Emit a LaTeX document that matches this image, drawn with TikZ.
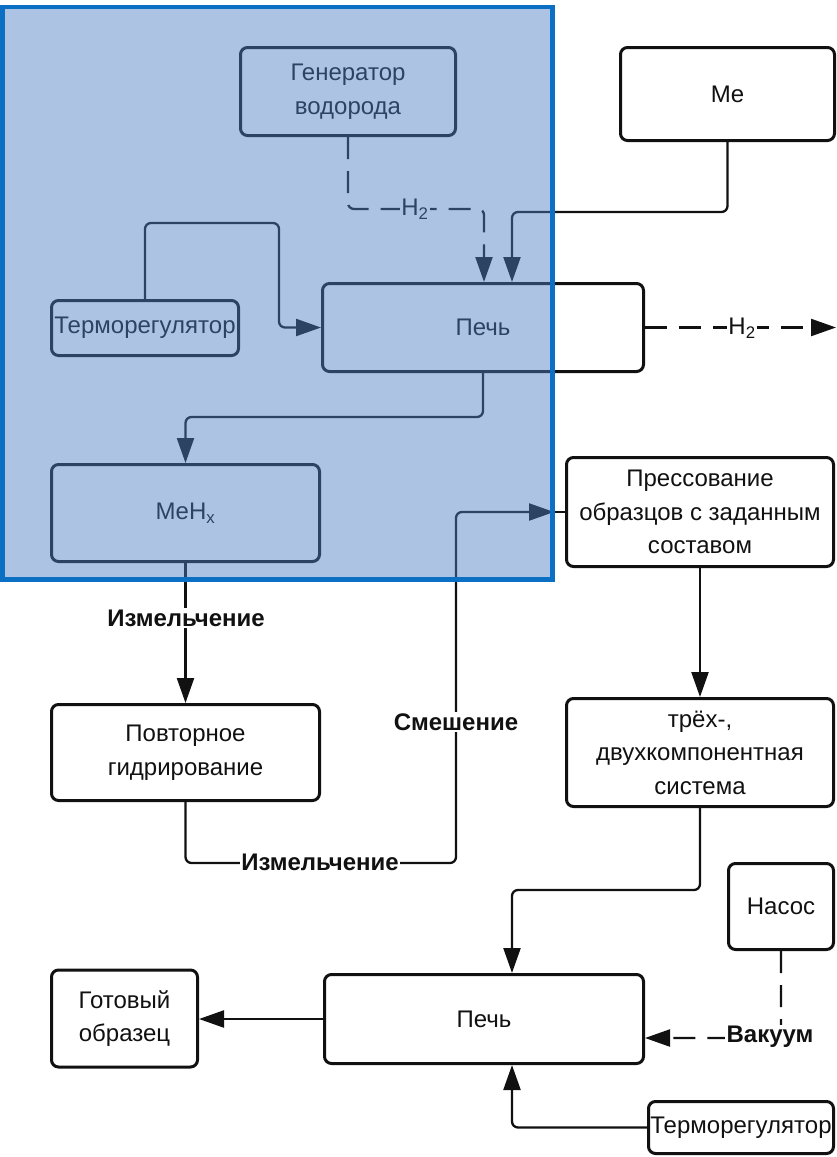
\documentclass[tikz,border=0pt]{standalone}
\usepackage{fontspec}
\setmainfont{Liberation Sans}
\usetikzlibrary{arrows.meta}

\definecolor{ink}{HTML}{111111}
\definecolor{frameblue}{HTML}{0B6FC4}
\definecolor{veil}{RGB}{78,126,196}

\begin{document}
\begin{tikzpicture}[x=1pt,y=-1pt,
  box/.style={draw=ink, line width=3pt, rounded corners=7pt, align=center,
    text=ink, inner sep=0pt, font=\fontsize{24}{33.5}\selectfont},
  link/.style={draw=ink, line width=2.3pt, rounded corners=6pt},
  tip/.style={-{Triangle[length=25pt,width=17pt]}},
  gas/.style={dash pattern=on 22pt off 12pt},
  lbl/.style={fill=white, inner sep=1.5pt, text=ink, font=\fontsize{24}{28}\selectfont},
  blbl/.style={lbl, font=\bfseries\fontsize{24}{28}\selectfont}]

\useasboundingbox (0,0) rectangle (837,1157);
\fill[white] (0,0) rectangle (837,1157);

% process blocks
\node[box, minimum width=215pt, minimum height=88pt] (gen) at (348,91.5) {Генератор\\водорода};
\node[box, minimum width=214pt, minimum height=93pt] (me) at (727.5,94) {Me};
\node[box, minimum width=187pt, minimum height=55pt] (termoA) at (145,328) {Терморегулятор};
\node[box, minimum width=321pt, minimum height=88pt] (furnA) at (483,327.5) {Печь};
\node[box, minimum width=268pt, minimum height=97pt] (mehx) at (185.5,513) {MeH\textsubscript{x}};
\node[box, minimum width=267pt, minimum height=109pt] (press) at (700,512) {Прессование\\образцов с заданным\\составом};
\node[box, minimum width=268pt, minimum height=96pt] (rehyd) at (185.5,752.5) {Повторное\\гидрирование};
\node[box, minimum width=267pt, minimum height=108pt] (sys) at (700,752.5) {трёх-,\\двухкомпонентная\\система};
\node[box, minimum width=105pt, minimum height=86pt] (pump) at (781,906.5) {Насос};
\node[box, minimum width=319pt, minimum height=89pt] (furnB) at (484,1019) {Печь};
\node[box, minimum width=146pt, minimum height=97pt] (ready) at (124.5,1018.5) {Готовый\\образец};
\node[box, minimum width=185pt, minimum height=52pt] (termoB) at (741,1127.5) {Терморегулятор};

% entry points on the furnaces
\coordinate (h2in) at ([xshift=1pt]furnA.north);
\coordinate (mein) at ([xshift=29pt]furnA.north);
\coordinate (h2out) at (836,327.5);
\coordinate (sysin) at ([xshift=28pt]furnB.north);
\coordinate (heatin) at ([xshift=28pt]furnB.south);
\coordinate (vacin) at ([yshift=-19pt]furnB.east);

% connectors
\draw[link,gas,tip] (gen.south) -- ++(0,72) -| (h2in);
\draw[link,tip] (me.south) -- ++(0,70) -| (mein);
\draw[link,tip] (termoA.north) |- (279,223) |- (furnA.west);
\draw[link,gas,tip] (furnA.east) -- (h2out);
\draw[link,tip] (furnA.south) -- ++(0,44) -| (mehx.north);
\draw[link,tip] (mehx.south) -- (rehyd.north);
\draw[link,tip,shorten >=11pt] (rehyd.south) |- (456,863) |- (press.west);
\draw[link] (press.west) -- ++(-12,0);
\draw[link,tip] (press.south) -- (sys.north);
\draw[link,tip] (sys.south) -- ++(0,82) -| (sysin);
\draw[link,gas,tip] (pump.south) |- (vacin);
\draw[link,tip] (termoB.west) -| (heatin);
\draw[link,tip] (furnB.west) -- (furnB.west -| ready.east);

% connector labels
\node[lbl] (lh2a) at (415,209) {H\textsubscript{2}};
\node[lbl] (lh2b) at (742,328) {H\textsubscript{2}};
\node[blbl] (lgrindA) at (186,618) {Измельчение};
\node[blbl] (lgrindB) at (320,862) {Измельчение};
\node[blbl] (lmix) at (456,722) {Смешение};
\node[blbl] (lvac) at (770,1037) {Вакуум};

% highlighted hydriding stage
\fill[veil, fill opacity=0.46] (2.5,7) rectangle (552.5,579.5);
\draw[frameblue, line width=4.5pt] (2.5,7) rectangle (552.5,579.5);
\end{tikzpicture}
\end{document}
